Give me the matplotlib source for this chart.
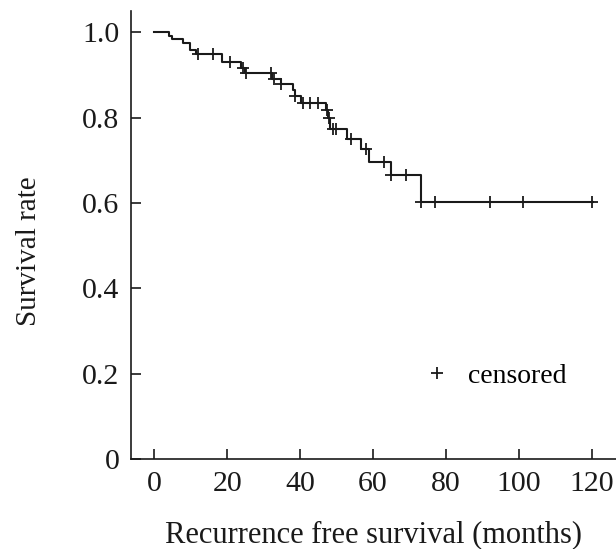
import numpy as np
import matplotlib
matplotlib.use('Agg')
import matplotlib.pyplot as plt
from matplotlib.lines import Line2D

# step curve: time at which survival drops, and the new level
event_times = [0, 4.1, 4.8, 7.8, 9.9, 11.5, 18.7, 23.8, 24.8, 32.3, 34.8, 38.0, 38.5,
               40.2, 47.0, 47.6, 48.2, 52.9, 56.8, 58.9, 64.8, 73.0]
surv_levels = [1.0, 0.991, 0.984, 0.976, 0.958, 0.948, 0.931, 0.916, 0.904, 0.891, 0.879,
               0.865, 0.851, 0.835, 0.818, 0.798, 0.773, 0.749, 0.726, 0.697, 0.666, 0.603]

# censored observations
cens_times = [12.0, 16.0, 20.8, 24.3, 25.2, 32.0, 32.7, 34.8, 38.7, 40.8, 42.8, 44.9,
              47.4, 47.8, 49.0, 49.7, 53.8, 58.0, 62.9, 64.9, 69.0, 73.0, 76.9, 92.0,
              101.0, 120.0]
end_time = 120.4

plt.rcParams['font.family'] = ['Liberation Serif', 'DejaVu Serif']

fig = plt.figure(figsize=(6.16, 5.49), dpi=100)
ax = fig.add_axes([0.212, 0.164, 0.788, 0.816])

t = np.array(event_times + [end_time])
s = np.array(surv_levels + [surv_levels[-1]])
ax.step(t, s, where='post', color='#1a1a1a', lw=1.5)

# level of the curve at each censored time
idx = np.searchsorted(event_times, cens_times, side='right') - 1
cens_s = np.array(surv_levels)[idx]
ax.plot(cens_times, cens_s, linestyle='none', marker='+', color='#1a1a1a',
        markersize=9, markeredgewidth=1.3)

ax.set_xlim(-6.5, 126.6)
ax.set_ylim(0, 1.05)
ax.set_xticks([0, 20, 40, 60, 80, 100, 120])
ax.set_yticks([0, 0.2, 0.4, 0.6, 0.8, 1.0])
ax.set_yticklabels(['0', '0.2', '0.4', '0.6', '0.8', '1.0'])
ax.tick_params(direction='in', length=7, width=1.2, labelsize=21.5, colors='#1a1a1a')
ax.tick_params(axis='x', pad=9)
ax.tick_params(axis='y', pad=8)
for side in ['top', 'right']:
    ax.spines[side].set_visible(False)
for side in ['left', 'bottom']:
    ax.spines[side].set_linewidth(1.2)
    ax.spines[side].set_color('#1a1a1a')

ax.set_xlabel('Recurrence free survival (months)', fontsize=22, color='#1a1a1a')
ax.xaxis.label.set_va('center')
ax.xaxis.set_label_coords(0.5, -0.17)
ax.set_ylabel('Survival rate', fontsize=21, color='#1a1a1a')
ax.yaxis.set_label_coords(-0.183, 0.464)

handle = Line2D([], [], linestyle='none', marker='+', color='#1a1a1a',
                markersize=9, markeredgewidth=1.3)
ax.legend([handle], ['censored'], frameon=False, fontsize=20,
          loc='center left', bbox_to_anchor=(0.5235, 0.185), handletextpad=0.1)

fig.savefig('out.png', dpi=100)
